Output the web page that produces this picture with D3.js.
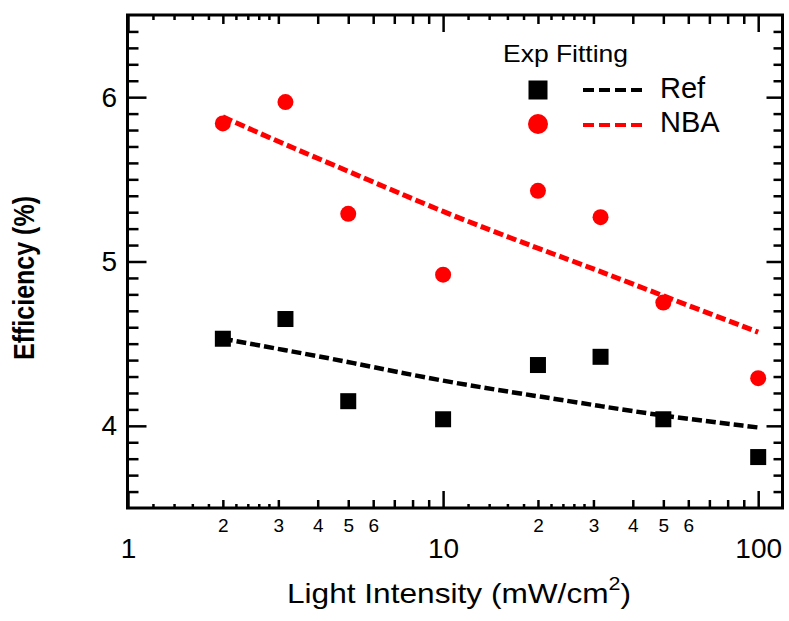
<!DOCTYPE html>
<html>
<head>
<meta charset="utf-8">
<script src="https://cdn.jsdelivr.net/npm/d3@7"></script>
<style>
  html, body { margin: 0; padding: 0; background: #fff; }
  svg { display: block; }
  text { font-family: "Liberation Sans", Arial, sans-serif; fill: #000; }
</style>
</head>
<body>
<svg id="chart" width="789" height="621"></svg>
<script>
// ---- data ----
const intensity = [2, 3.16, 5, 10, 20, 31.6, 50, 100];
const refEff = [4.53, 4.65, 4.15, 4.04, 4.37, 4.42, 4.04, 3.81];
const nbaEff = [5.84, 5.97, 5.29, 4.92, 5.43, 5.27, 4.75, 4.29];
const fitIntensity = [2, 3.16, 5, 10, 20, 31.6, 50, 100];
const refFit = [4.53, 4.46, 4.39, 4.27, 4.18, 4.12, 4.06, 3.99];
const nbaFit = [5.88, 5.71, 5.55, 5.30, 5.08, 4.94, 4.79, 4.57];
const seriesNames = ["Ref", "NBA"];
const legendTitle = "Exp Fitting";
const xMajorTicks = [1, 10, 100];
const xMidTicks = [2, 3, 4, 5, 6, 7, 8, 9, 20, 30, 40, 50, 60, 70, 80, 90];
const xSmallTicks = [1.2, 1.4, 1.6, 1.8, 2.2, 2.4, 2.6, 2.8, 12, 14, 16, 18, 22, 24, 26, 28];
const xMinorLabelTicks = [2, 3, 4, 5, 6, 20, 30, 40, 50, 60];
const yMajorTicks = [4, 5, 6];
const yMinorTicks = [3.6,3.7,3.8,3.9,4.1,4.2,4.3,4.4,4.5,4.6,4.7,4.8,4.9,5.1,5.2,5.3,5.4,5.5,5.6,5.7,5.8,5.9,6.1,6.2,6.3,6.4];
const xTitle = "Light Intensity (mW/cm";
const yTitle = "Efficiency (%)";

// ---- layout ----
const L = 127.5, R = 782.5, T = 15, B = 508;
const svg = d3.select("#chart");
const x = d3.scaleLog().domain([1, 119]).range([128, 782]);
const y = d3.scaleLinear().domain([3.5, 6.5]).range([B, T]);

function tickAxis(axisFn, scale, vals, size, transform) {
  const g = svg.append("g").attr("transform", transform)
    .call(axisFn(scale).tickValues(vals).tickSize(size).tickFormat(""));
  g.select(".domain").remove();
  g.selectAll(".tick line").attr("stroke", "#000").attr("stroke-width", 2.5);
  return g;
}
// bottom ticks (inward = up)
tickAxis(d3.axisBottom, x, xSmallTicks, -4, `translate(0,${B})`);
tickAxis(d3.axisBottom, x, xMidTicks, -8, `translate(0,${B})`);
tickAxis(d3.axisBottom, x, xMajorTicks, -17, `translate(0,${B})`);
// top ticks (inward = down)
tickAxis(d3.axisTop, x, xSmallTicks, -5, `translate(0,${T})`);
tickAxis(d3.axisTop, x, xMidTicks, -9, `translate(0,${T})`);
tickAxis(d3.axisTop, x, xMajorTicks, -17, `translate(0,${T})`);
// left ticks
tickAxis(d3.axisLeft, y, yMinorTicks, -11, `translate(${L},0)`);
tickAxis(d3.axisLeft, y, yMajorTicks, -19, `translate(${L},0)`);
// right ticks
tickAxis(d3.axisRight, y, yMinorTicks, -9, `translate(${R},0)`);
tickAxis(d3.axisRight, y, yMajorTicks, -16, `translate(${R},0)`);

// tick labels
const xl = svg.append("g").attr("transform", `translate(0,${B})`)
  .call(d3.axisBottom(x).tickValues(xMajorTicks).tickSize(0).tickPadding(30).tickFormat(d3.format("d")));
xl.select(".domain").remove();
xl.selectAll("text").attr("font-size", 28).attr("font-family", "Liberation Sans, Arial, sans-serif");
const xm = svg.append("g").attr("transform", `translate(0,${B})`)
  .call(d3.axisBottom(x).tickValues(xMinorLabelTicks).tickSize(0).tickPadding(10.5)
    .tickFormat(d => String(d).charAt(0)));
xm.select(".domain").remove();
xm.selectAll("text").attr("font-size", 19).attr("font-family", "Liberation Sans, Arial, sans-serif");
const yl = svg.append("g").attr("transform", `translate(${L},0)`)
  .call(d3.axisLeft(y).tickValues(yMajorTicks).tickSize(0).tickPadding(10.5).tickFormat(d3.format("d")));
yl.select(".domain").remove();
yl.selectAll("text").attr("font-size", 28).attr("font-family", "Liberation Sans, Arial, sans-serif");

// frame
svg.append("rect").attr("x", L).attr("y", T).attr("width", R - L).attr("height", B - T)
  .attr("fill", "none").attr("stroke", "#000").attr("stroke-width", 3);

// fit lines
const line = d3.line().x(d => x(d[0])).y(d => y(d[1])).curve(d3.curveBasis);
svg.append("path").datum(fitIntensity.map((v, i) => [v, refFit[i]]))
  .attr("d", line).attr("fill", "none").attr("stroke", "#000")
  .attr("stroke-width", 4.5).attr("stroke-dasharray", "10,4");
svg.append("path").datum(fitIntensity.map((v, i) => [v, nbaFit[i]]))
  .attr("d", line).attr("fill", "none").attr("stroke", "#ff0000")
  .attr("stroke-width", 5).attr("stroke-dasharray", "10,4");

// markers
const sq = 16;
svg.append("g").selectAll("rect").data(intensity.map((v, i) => [v, refEff[i]])).join("rect")
  .attr("x", d => x(d[0]) - sq / 2).attr("y", d => y(d[1]) - sq / 2)
  .attr("width", sq).attr("height", sq).attr("fill", "#000");
svg.append("g").selectAll("circle").data(intensity.map((v, i) => [v, nbaEff[i]])).join("circle")
  .attr("cx", d => x(d[0])).attr("cy", d => y(d[1])).attr("r", 8).attr("fill", "#ff0000");

// legend
svg.append("text").attr("x", 503).attr("y", 62).attr("font-size", 24)
  .attr("textLength", 125).attr("lengthAdjust", "spacingAndGlyphs").text(legendTitle);
svg.append("rect").attr("x", 538 - 9.5).attr("y", 90 - 9.5).attr("width", 19).attr("height", 19).attr("fill", "#000");
svg.append("circle").attr("cx", 538).attr("cy", 124).attr("r", 10).attr("fill", "#ff0000");
svg.append("line").attr("x1", 583).attr("x2", 643).attr("y1", 90).attr("y2", 90)
  .attr("stroke", "#000").attr("stroke-width", 4).attr("stroke-dasharray", "11,5");
svg.append("line").attr("x1", 583).attr("x2", 643).attr("y1", 125).attr("y2", 125)
  .attr("stroke", "#ff0000").attr("stroke-width", 4).attr("stroke-dasharray", "11,5");
svg.append("text").attr("x", 660).attr("y", 98).attr("font-size", 29).text(seriesNames[0]);
svg.append("text").attr("x", 660).attr("y", 132).attr("font-size", 29).text(seriesNames[1]);

// axis titles
const xt = svg.append("text").attr("text-anchor", "middle")
  .attr("transform", "translate(459,603) scale(1.13,1)").attr("font-size", 28);
xt.append("tspan").text(xTitle);
xt.append("tspan").attr("dy", -13).attr("font-size", 19).text("2");
xt.append("tspan").attr("dy", 13).text(")");
svg.append("text").attr("text-anchor", "middle")
  .attr("transform", "translate(34,278) scale(1.2,1) rotate(-90)")
  .attr("font-size", 25).attr("font-weight", "bold").text(yTitle);
</script>
</body>
</html>
